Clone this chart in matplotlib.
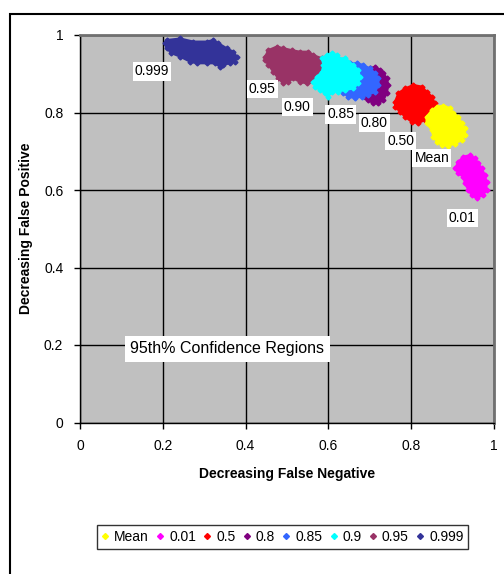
import matplotlib.pyplot as plt
from matplotlib.lines import Line2D
from matplotlib.patches import Rectangle

plt.rcParams['font.family'] = ['Liberation Sans', 'DejaVu Sans']

# Contornos de las regiones de confianza (x = FN decreciente, y = FP decreciente)
series = ["Mean", "0.01", "0.5", "0.8", "0.85", "0.9", "0.95", "0.999"]

mean_x = [0.837, 0.850, 0.862, 0.878, 0.894, 0.902, 0.914, 0.922, 0.930, 0.930,
          0.922, 0.906, 0.890, 0.874, 0.862, 0.853, 0.850, 0.837]
mean_y = [0.789, 0.806, 0.815, 0.818, 0.811, 0.798, 0.789, 0.772, 0.759, 0.742,
          0.729, 0.720, 0.714, 0.716, 0.725, 0.738, 0.755, 0.772]

p001_x = [0.906, 0.914, 0.926, 0.942, 0.954, 0.962, 0.970, 0.978, 0.982, 0.982,
          0.974, 0.958, 0.946, 0.938, 0.930, 0.926, 0.914]
p001_y = [0.656, 0.673, 0.686, 0.690, 0.682, 0.669, 0.656, 0.639, 0.621, 0.600,
          0.587, 0.579, 0.587, 0.600, 0.617, 0.634, 0.643]

p05_x = [0.761, 0.769, 0.785, 0.805, 0.825, 0.837, 0.850, 0.857, 0.857, 0.850,
         0.833, 0.817, 0.801, 0.785, 0.773, 0.761]
p05_y = [0.828, 0.850, 0.862, 0.871, 0.867, 0.854, 0.841, 0.824, 0.802, 0.789,
         0.781, 0.772, 0.776, 0.789, 0.802, 0.815]

p08_x = [0.700, 0.713, 0.725, 0.733, 0.741, 0.745, 0.741, 0.733, 0.721, 0.708,
         0.696, 0.688, 0.676, 0.688]
p08_y = [0.914, 0.918, 0.910, 0.901, 0.888, 0.871, 0.850, 0.832, 0.824, 0.824,
         0.832, 0.841, 0.871, 0.904]

p085_x = [0.636, 0.652, 0.668, 0.684, 0.700, 0.713, 0.721, 0.721, 0.713, 0.696,
          0.680, 0.664, 0.648, 0.636, 0.628, 0.628]
p085_y = [0.918, 0.927, 0.927, 0.923, 0.914, 0.901, 0.888, 0.871, 0.854, 0.845,
          0.841, 0.837, 0.841, 0.850, 0.866, 0.901]

p09_x = [0.584, 0.596, 0.608, 0.620, 0.624, 0.640, 0.648, 0.660, 0.672, 0.676,
         0.672, 0.660, 0.640, 0.624, 0.608, 0.600, 0.592, 0.580, 0.568, 0.564,
         0.572, 0.584, 0.588]
p09_y = [0.940, 0.948, 0.953, 0.948, 0.940, 0.940, 0.931, 0.923, 0.910, 0.892,
         0.875, 0.862, 0.858, 0.854, 0.854, 0.841, 0.850, 0.858, 0.866, 0.879,
         0.892, 0.905, 0.923]

p095_x = [0.447, 0.455, 0.475, 0.491, 0.511, 0.531, 0.551, 0.564, 0.584, 0.592,
          0.592, 0.580, 0.568, 0.548, 0.531, 0.515, 0.503, 0.491, 0.479, 0.467,
          0.455, 0.447]
p095_y = [0.944, 0.961, 0.970, 0.966, 0.961, 0.957, 0.957, 0.948, 0.940, 0.923,
          0.901, 0.888, 0.879, 0.875, 0.879, 0.888, 0.879, 0.875, 0.888, 0.905,
          0.923, 0.935]

p0999_x = [0.209, 0.242, 0.274, 0.306, 0.322, 0.334, 0.354, 0.370, 0.379, 0.374,
           0.362, 0.346, 0.338, 0.326, 0.306, 0.282, 0.266, 0.242, 0.221, 0.209,
           0.205]
p0999_y = [0.987, 0.991, 0.983, 0.983, 0.987, 0.979, 0.966, 0.957, 0.944, 0.931,
           0.927, 0.923, 0.918, 0.927, 0.927, 0.927, 0.931, 0.944, 0.953, 0.966,
           0.979]

etiquetas = ["Mean", "0.01", "0.50", "0.80", "0.85", "0.90", "0.95", "0.999"]
ticks = [0, 0.2, 0.4, 0.6, 0.8, 1]
tick_labels = ["0", "0.2", "0.4", "0.6", "0.8", "1"]

colores = ["#FFFF00", "#FF00FF", "#FF0000", "#800080", "#3366FF",
           "#00FFFF", "#993366", "#333399"]
xs = [mean_x, p001_x, p05_x, p08_x, p085_x, p09_x, p095_x, p0999_x]
ys = [mean_y, p001_y, p05_y, p08_y, p085_y, p09_y, p095_y, p0999_y]
orden = [6, 5, 4, 1, 2, 7, 3, 2]
pos_etiqueta = [(0.850, 0.683), (0.923, 0.528), (0.775, 0.726), (0.711, 0.772),
                (0.630, 0.795), (0.525, 0.815), (0.440, 0.861), (0.174, 0.906)]

fig = plt.figure(figsize=(5.04, 5.74), dpi=100)
ax = fig.add_axes([80 / 504, 1 - 422.5 / 574, 414 / 504, 387.5 / 574])
ax.set_facecolor("#C0C0C0")

for i in range(len(series)):
    ax.fill(xs[i], ys[i], color=colores[i], ec=colores[i], lw=1.5, zorder=3 + orden[i])
    # borde dentado con rombos pequeños
    ax.plot(xs[i], ys[i], ls="none", marker="D", ms=2.5, color=colores[i],
            zorder=3 + orden[i])
    ax.text(pos_etiqueta[i][0], pos_etiqueta[i][1], etiquetas[i], fontsize=10,
            ha="center", va="center", zorder=20,
            bbox=dict(fc="white", ec="none", pad=1.5))

ax.text(0.356, 0.19, "95th% Confidence Regions", fontsize=11.5, ha="center",
        va="center", zorder=20, bbox=dict(fc="white", ec="none", pad=4))

ax.set_xlim(0, 1)
ax.set_ylim(0, 1)
ax.set_xticks(ticks)
ax.set_xticklabels(tick_labels)
ax.set_yticks(ticks)
ax.set_yticklabels(tick_labels)
ax.tick_params(direction="out", length=4, width=1, labelsize=10, color="black", pad=8)
ax.grid(True, color="black", lw=1)
ax.set_axisbelow(True)
for lado in ["left", "bottom"]:
    ax.spines[lado].set_color("black")
    ax.spines[lado].set_linewidth(1)
for lado in ["top", "right"]:
    ax.spines[lado].set_color("#707070")
    ax.spines[lado].set_linewidth(2)

ax.set_xlabel("Decreasing False Negative", fontsize=10, fontweight="bold", labelpad=10)
ax.set_ylabel("Decreasing False Positive", fontsize=10, fontweight="bold", labelpad=8)

# Leyenda con marcadores en rombo
handles = [Line2D([], [], ls="none", marker="D", ms=3, color=c) for c in colores]
fig.legend(handles, series, loc="center", bbox_to_anchor=(282.5 / 504, 1 - 537 / 574),
           ncol=8, fontsize=10, frameon=True, fancybox=False, edgecolor="black",
           handlelength=0.5, handletextpad=0.4, columnspacing=0.56, borderpad=0.35)

# Marco exterior del gráfico
fig.patches.append(Rectangle((10 / 504, -0.1), 1.0, 1 - 14 / 574 + 0.1,
                             transform=fig.transFigure, fill=False,
                             ec="black", lw=1.5))

fig.savefig("out.png", dpi=100)
